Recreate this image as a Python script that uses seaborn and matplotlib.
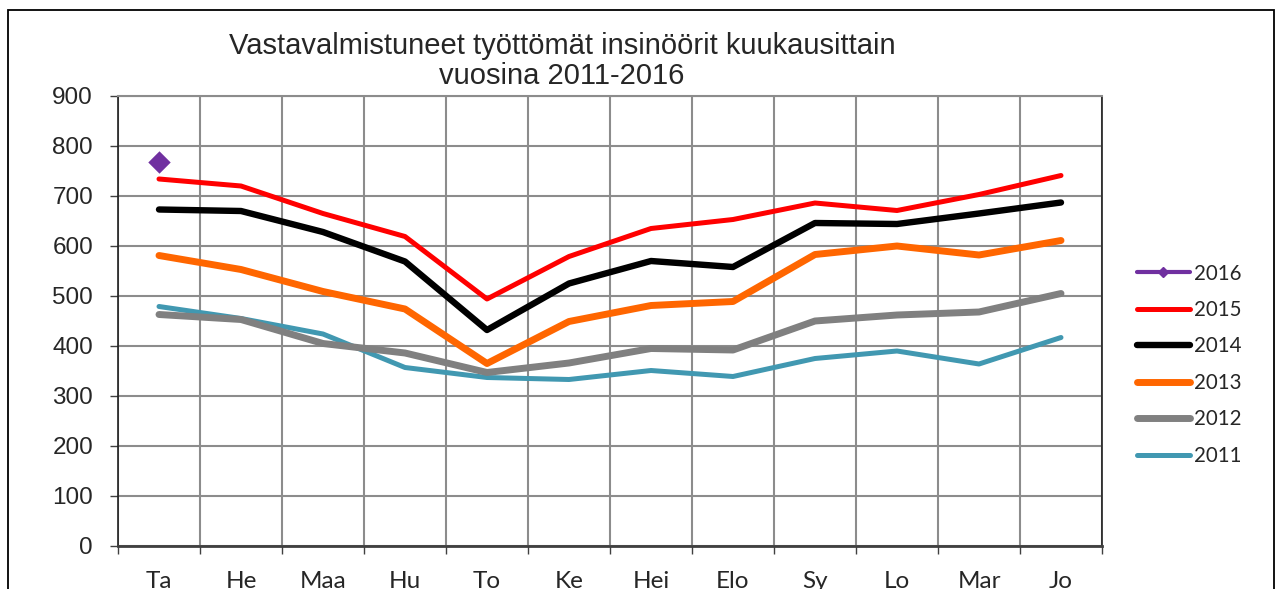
import numpy as np
import pandas as pd
import seaborn as sns
import matplotlib.pyplot as plt
from matplotlib.lines import Line2D
from matplotlib.patches import Rectangle

# Kuukaudet
kuukaudet = ["Ta", "He", "Maa", "Hu", "To", "Ke", "Hei", "Elo", "Sy", "Lo", "Mar", "Jo"]

# Vastavalmistuneet työttömät insinöörit vuosittain
v2011 = [479, 455, 424, 357, 337, 333, 351, 339, 375, 390, 364, 417]
v2012 = [463, 453, 405, 386, 347, 366, 395, 392, 450, 462, 468, 505]
v2013 = [581, 553, 509, 474, 365, 449, 481, 489, 583, 600, 582, 611]
v2014 = [673, 670, 628, 569, 432, 525, 570, 558, 646, 644, 665, 687]
v2015 = [734, 720, 665, 619, 494, 579, 635, 653, 686, 671, 703, 741]
v2016 = [768]

vuodet = ["2016", "2015", "2014", "2013", "2012", "2011"]
sarjat = [v2016, v2015, v2014, v2013, v2012, v2011]
varit = ["#7030a0", "#ff0000", "#000000", "#ff6600", "#808080", "#4198b1"]
paksuus = [3.0, 3.6, 4.6, 5.0, 5.0, 3.6]

rows = []
for vuosi, arvot in zip(vuodet, sarjat):
    for i, a in enumerate(arvot):
        rows.append({"vuosi": vuosi, "kk": i, "n": a})
df = pd.DataFrame(rows)

sns.set_theme(style="white")
plt.rcParams["font.family"] = ["Liberation Sans", "DejaVu Sans"]

fig = plt.figure(figsize=(12.79, 5.89), dpi=100)
ax = fig.add_axes([118 / 1279, 1 - 546 / 589, (1102 - 118) / 1279, 450 / 589])

# piirretään vanhin ensin, niin uudemmat jäävät päälle
for vuosi, vari, lw in reversed(list(zip(vuodet, varit, paksuus))):
    d = df[df["vuosi"] == vuosi]
    if vuosi == "2016":
        sns.scatterplot(data=d, x="kk", y="n", color=vari, marker="D", s=130,
                        edgecolor=vari, linewidth=0, ax=ax, zorder=5, legend=False)
    else:
        sns.lineplot(data=d, x="kk", y="n", color=vari, linewidth=lw,
                     ax=ax, zorder=4, legend=False, solid_capstyle="round")

ax.set_xlim(-0.5, 11.5)
ax.set_ylim(0, 900)
ax.set_yticks(np.arange(0, 901, 100))
ax.set_xticks(np.arange(12))
ax.set_xticklabels(kuukaudet, fontsize=17.5, family=["Lato", "DejaVu Sans"])
ax.set_xticks(np.arange(-0.5, 12, 1), minor=True)
ax.tick_params(axis="x", which="major", length=0, pad=18)
ax.tick_params(axis="x", which="minor", length=6, width=1, color="#404040", direction="out", bottom=True)
ax.tick_params(axis="y", length=6, width=1, color="#404040", direction="out", left=True, labelsize=17.5, pad=12)
ax.set_xlabel("")
ax.set_ylabel("")

ax.grid(False)
ax.yaxis.grid(True, color="#8c8c8c", linewidth=1.5)
ax.xaxis.grid(True, which="minor", color="#8c8c8c", linewidth=1.5)
ax.set_axisbelow(True)

for s in ["left", "right"]:
    ax.spines[s].set_color("#202020")
    ax.spines[s].set_linewidth(1.2)
ax.spines["bottom"].set_color("#404040")
ax.spines["bottom"].set_linewidth(2)
ax.spines["top"].set_color("#8c8c8c")
ax.spines["top"].set_linewidth(1.5)

fig.text(562 / 1279, 1 - 61 / 589,
         "Vastavalmistuneet työttömät insinöörit kuukausittain\nvuosina 2011-2016",
         ha="center", va="center", fontsize=21, linespacing=1.1)

# selite
kahvat = []
for vuosi, vari, lw in zip(vuodet, varit, paksuus):
    if vuosi == "2016":
        kahvat.append(Line2D([], [], color=vari, linewidth=3, marker="D", markersize=5))
    else:
        kahvat.append(Line2D([], [], color=vari, linewidth=lw, solid_capstyle="round"))
leg = fig.legend(kahvat, vuodet, loc="upper left", bbox_to_anchor=(1118 / 1279, 1 - 245 / 589),
                 frameon=False, handlelength=2.6, handletextpad=0.2, labelspacing=0.8,
                 numpoints=1, prop={"family": ["Lato", "DejaVu Sans"], "size": 14.8})

# kuvan kehys
fig.patches.append(Rectangle((8 / 1279, -0.1), (1274 - 8) / 1279, 1.1 - 10 / 589,
                             transform=fig.transFigure, fill=False,
                             edgecolor="#000000", linewidth=1.3))

fig.savefig("out.png", dpi=100)
